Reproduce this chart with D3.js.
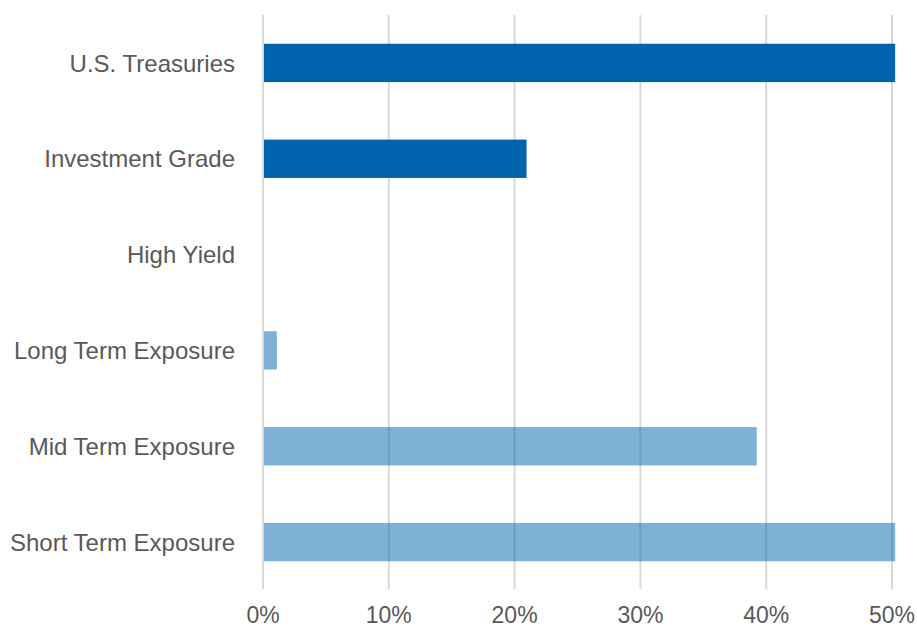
<!DOCTYPE html>
<html>
<head>
<meta charset="utf-8">
<script src="https://cdn.jsdelivr.net/npm/d3@7"></script>
<style>
body { margin: 0; background: #fff; }
text { font-family: Arial, "Liberation Sans", Helvetica, sans-serif; fill: #595959; }
</style>
</head>
<body>
<div id="chart"></div>
<script>
// values in percent
var categories = ["U.S. Treasuries", "Investment Grade", "High Yield", "Long Term Exposure", "Mid Term Exposure", "Short Term Exposure"]
var values = [50.25, 20.95, 0, 1.1, 39.25, 50.25]
var groups = ["credit", "credit", "credit", "duration", "duration", "duration"]
var ticks = [0, 10, 20, 30, 40, 50]

var width = 917, height = 629
var svg = d3.select("#chart").append("svg")
  .attr("width", width)
  .attr("height", height)
  .style("display", "block")

var x = d3.scaleLinear()
  .domain([0, 50])
  .range([263, 892])
var y = d3.scaleBand()
  .domain(categories)
  .range([15, 590])
  .paddingInner(0.6)
  .paddingOuter(0.3)

/* vertical grid */
svg.append("g")
  .selectAll("line")
  .data(ticks)
  .enter()
  .append("line")
  .attr("x1", function(d) { return x(d) })
  .attr("x2", function(d) { return x(d) })
  .attr("y1", 15)
  .attr("y2", 589)
  .attr("stroke", "#d9d9d9")
  .attr("stroke-width", 2)

/* bars */
svg.append("g")
  .selectAll("rect")
  .data(values)
  .enter()
  .append("rect")
  .attr("x", x(0) + 1)
  .attr("y", function(d, i) { return y(categories[i]) })
  .attr("width", function(d) { return Math.max(0, x(d) - x(0) - 1) })
  .attr("height", y.bandwidth())
  .attr("fill", "#0063ad")
  .attr("fill-opacity", function(d, i) { return groups[i] == "credit" ? 1 : 0.5 })

/* category labels */
svg.append("g")
  .selectAll("text")
  .data(categories)
  .enter()
  .append("text")
  .text(function(d) { return d })
  .attr("x", 235)
  .attr("y", function(d) { return y(d) + y.bandwidth() / 2 })
  .attr("dy", "0.36em")
  .attr("text-anchor", "end")
  .style("font-size", "24px")

/* x axis labels */
svg.append("g")
  .selectAll("text")
  .data(ticks)
  .enter()
  .append("text")
  .text(function(d) { return d + "%" })
  .attr("x", function(d) { return x(d) })
  .attr("y", 623)
  .attr("text-anchor", "middle")
  .style("font-size", "23px")
</script>
</body>
</html>
